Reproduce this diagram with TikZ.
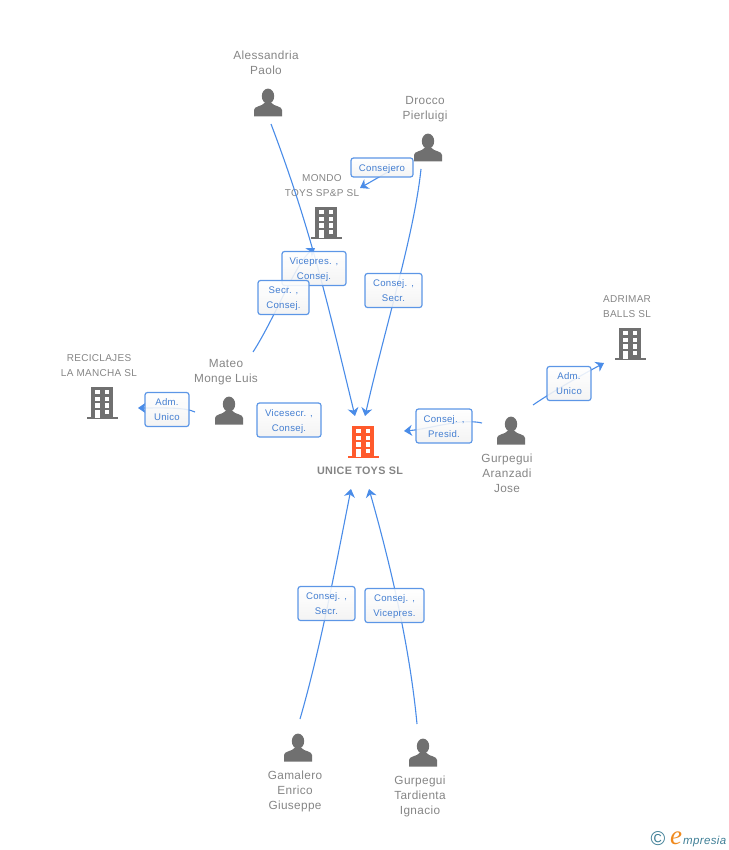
\documentclass[tikz,border=0pt]{standalone}
\usepackage{fontspec}
\setmainfont{Liberation Sans}[LetterSpace=3]
\newfontfamily\logofont{Liberation Serif}
\usetikzlibrary{arrows.meta}
\usepackage{xcolor}
\definecolor{linkblue}{HTML}{4A8CE8}
\definecolor{boxblue}{HTML}{5C96E6}
\definecolor{rolegray}{HTML}{858585}
\definecolor{icongray}{HTML}{707070}
\definecolor{mainorange}{HTML}{FF5A2C}
\definecolor{logoteal}{HTML}{3F7F96}
\definecolor{logoorange}{HTML}{F08A1E}

\tikzset{
  link/.style={draw=linkblue,line width=1.1pt,-{Stealth[length=8pt,width=11pt,inset=2.5pt]}},
  namelabel/.style={text=rolegray,align=center,font=\fontsize{11.8}{15}\selectfont,inner sep=0pt},
  firmlabel/.style={text=rolegray,align=center,font=\fontsize{10}{15}\selectfont,inner sep=0pt},
  rolebox/.style={draw=boxblue,line width=1.2pt,rounded corners=2.5pt,top color=white,bottom color=black!5,
    fill opacity=.88,text opacity=1,text=linkblue!90!black,align=center,inner sep=0pt,
    font=\fontsize{9.6}{15}\selectfont,minimum height=34pt,text height=22pt,text depth=0pt},
  personicon/.pic={
    \fill[icongray] (0,-6.8) ellipse (6.2pt and 7.6pt);
    \fill[icongray] (-14,13.5) -- (-14,7) .. controls (-14,3) and (-6,3.5) .. (-3.5,0)
      -- (3.5,0) .. controls (6,3.5) and (14,3) .. (14,7) -- (14,13.5) -- cycle;
  },
  buildingicon/.pic={
    \fill[pic actions] (-11,-16) rectangle (11,14.5);
    \fill[pic actions] (-15.5,14) rectangle (15.5,16);
    \foreach \ypos in {-13,-6.3,0.3}{
      \fill[white] (-7,\ypos) rectangle ++(4.5,4.3);
      \fill[white] (2.6,\ypos) rectangle ++(4.5,4.3);
    }
    \fill[white] (-7,7) rectangle (-2.5,14.5);
    \fill[white] (2.6,7) rectangle ++(4.5,4.3);
  },
}

\begin{document}
\begin{tikzpicture}[x=1pt,y=-1pt]
\useasboundingbox (0,0) rectangle (728,850);

% people
\pic at (268,103) {personicon};
\pic at (428,148) {personicon};
\pic at (229,411) {personicon};
\pic at (511,431) {personicon};
\pic at (298,748) {personicon};
\pic at (423,753) {personicon};

\node[namelabel] (paolo) at (266,62.5) {Alessandria\\Paolo};
\node[namelabel] (drocco) at (425,109.5) {Drocco\\Pierluigi};
\node[namelabel] (mateo) at (226,372.5) {Mateo\\Monge Luis};
\node[namelabel] (aranzadi) at (507,473) {Gurpegui\\Aranzadi\\Jose};
\node[namelabel] (gamalero) at (295,791) {Gamalero\\Enrico\\Giuseppe};
\node[namelabel] (tardienta) at (420,796) {Gurpegui\\Tardienta\\Ignacio};

% companies
\pic[fill=icongray] at (326,223) {buildingicon};
\pic[fill=icongray] at (630,344) {buildingicon};
\pic[fill=icongray] at (102,403) {buildingicon};
\pic[fill=mainorange] at (363,442) {buildingicon};

\node[firmlabel] (mondo) at (322,185.5) {MONDO\\TOYS SP\&P SL};
\node[firmlabel] (adrimar) at (627,306.5) {ADRIMAR\\BALLS SL};
\node[firmlabel] (reciclajes) at (99,365.5) {RECICLAJES\\LA MANCHA SL};
\node[namelabel,font=\fontsize{10.8}{15}\selectfont\bfseries] (unice) at (360,471) {UNICE TOYS SL};

% free ends of the links
\coordinate (paoloout) at (271,124);
\coordinate (droccoout) at (421,169);
\coordinate (droccoside) at (400,165);
\coordinate (mateoup) at (253,352);
\coordinate (mateoleft) at (195,412);
\coordinate (aranzadiup) at (533,405);
\coordinate (aranzadileft) at (482,423);
\coordinate (gamaleroup) at (300,719);
\coordinate (tardientaup) at (417,724);
\coordinate (unicetopa) at (355,416);
\coordinate (unicetopb) at (365,416);
\coordinate (uniceright) at (404,431);
\coordinate (unicebota) at (351,489);
\coordinate (unicebotb) at (369,489);
\coordinate (mondolabel) at (360,188);
\coordinate (mondobase) at (315,248);
\coordinate (adrimarside) at (604,363);
\coordinate (reciclajesside) at (138,408);

% links
\draw[link] (paoloout) .. controls (312,232) and (329,310) .. (unicetopa);
\draw[link] (droccoout) .. controls (414,235) and (387,320) .. (unicetopb);
\draw[link] (droccoside) -- (mondolabel);
\draw[link] (mateoup) .. controls (275,318) and (296,262) .. (mondobase);
\draw[link] (mateoleft) .. controls (185,407) and (160,408) .. (reciclajesside);
\draw[link] (aranzadiup) .. controls (555,390) and (580,376) .. (adrimarside);
\draw[link] (aranzadileft) .. controls (460,418) and (430,429) .. (uniceright);
\draw[link] (gamaleroup) .. controls (320,650) and (335,570) .. (unicebota);
\draw[link] (tardientaup) .. controls (410,650) and (392,570) .. (unicebotb);

% boxes
\node[rolebox,minimum width=62pt,minimum height=19pt,text height=9pt,text depth=1pt] (consejero) at (382,167.5) {Consejero};
\node[rolebox,minimum width=64pt] (vicepres) at (314,268.5) {Vicepres. ,\\Consej.};
\node[rolebox,minimum width=51pt] (secr) at (283.5,297.5) {Secr. ,\\Consej.};
\node[rolebox,minimum width=57pt] (consecr) at (393.5,290.5) {Consej. ,\\Secr.};
\node[rolebox,minimum width=44pt] (admleft) at (167,409.5) {Adm.\\Unico};
\node[rolebox,minimum width=64pt] (vicesecr) at (289,420) {Vicesecr. ,\\Consej.};
\node[rolebox,minimum width=56pt] (presid) at (444,426) {Consej. ,\\Presid.};
\node[rolebox,minimum width=44pt] (admright) at (569,383.5) {Adm.\\Unico};
\node[rolebox,minimum width=57pt] (consecrlow) at (326.5,603.5) {Consej. ,\\Secr.};
\node[rolebox,minimum width=59pt] (convice) at (394.5,605.5) {Consej. ,\\Vicepres.};

% logo
\node[text=logoteal,font=\fontsize{20}{20}\selectfont,inner sep=0pt] (copyr) at (658,839) {©};
\node[text=logoorange,font=\logofont\fontsize{27}{27}\selectfont\itshape,inner sep=0pt] (logoe) at (676,838) {e};
\node[text=logoteal,font=\fontsize{11.5}{12}\selectfont\itshape,inner sep=0pt,anchor=base west] (logotext) at (683,844) {mpresia};
\end{tikzpicture}
\end{document}
